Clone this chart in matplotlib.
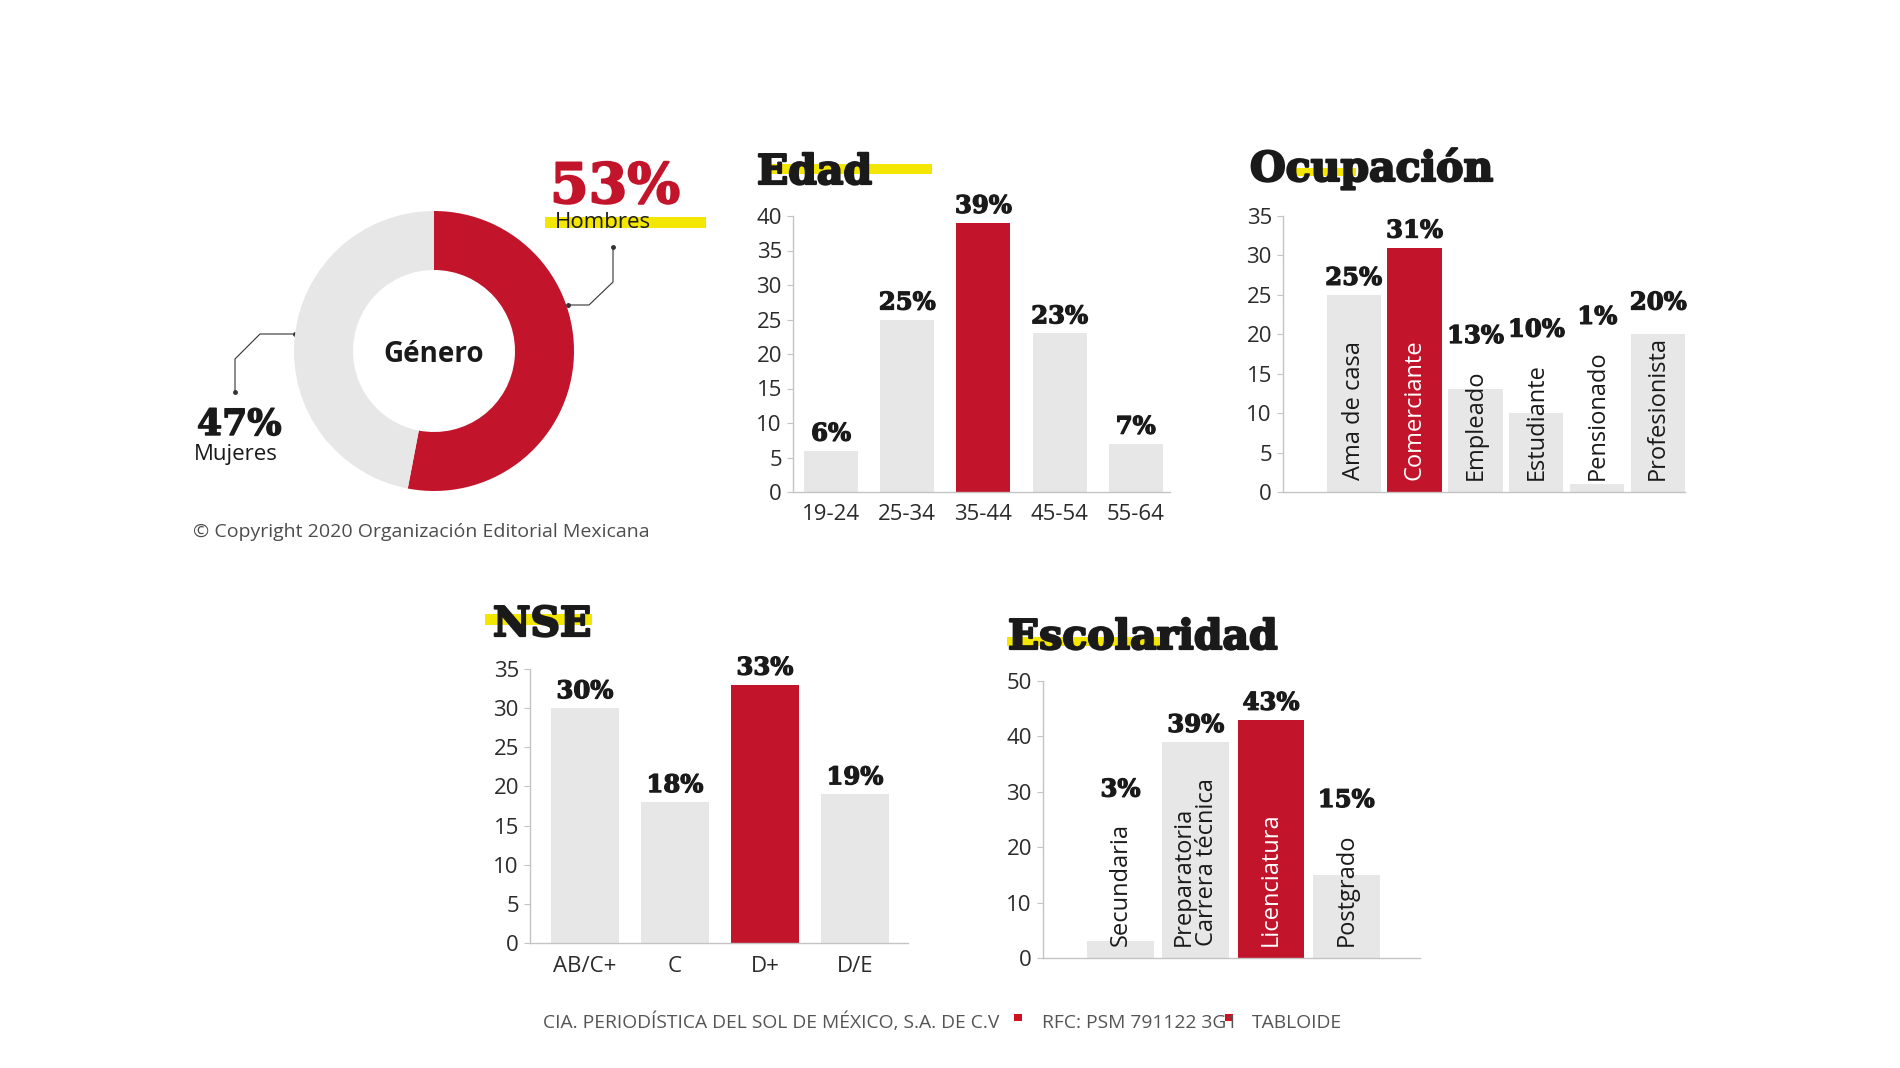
import matplotlib
matplotlib.use('Agg')
import matplotlib.pyplot as plt
import matplotlib.patheffects as pe
from matplotlib.patches import Rectangle
import numpy as np

RED = '#c2152b'
GRAY = '#e7e7e7'
YELLOW = '#f3e600'
INK = '#1a1a1a'
AXIS = '#c4c4c4'
SERIF = 'DejaVu Serif'
SANS = 'Open Sans'

# --- data ---
gen_labels = ['Hombres', 'Mujeres']
gen_vals = [53, 47]

edad_cats = ['19-24', '25-34', '35-44', '45-54', '55-64']
edad_vals = [6, 25, 39, 23, 7]

ocup_cats = ['Ama de casa', 'Comerciante', 'Empleado', 'Estudiante', 'Pensionado', 'Profesionista']
ocup_vals = [25, 31, 13, 10, 1, 20]

nse_cats = ['AB/C+', 'C', 'D+', 'D/E']
nse_vals = [30, 18, 33, 19]

esc_cats = ['Secundaria', 'Preparatoria\nCarrera técnica', 'Licenciatura', 'Postgrado']
esc_vals = [3, 39, 43, 15]

footer = ['CIA. PERIODÍSTICA DEL SOL DE MÉXICO, S.A. DE C.V', 'RFC: PSM 791122 3G1', 'TABLOIDE']

W, H = 1900, 1068
fig = plt.figure(figsize=(W / 100, H / 100), dpi=100)
fig.patch.set_facecolor('white')


def rect(l, t, r, b):
    # pixel box (from top-left) -> figure fraction
    return [l / W, 1 - b / H, (r - l) / W, (b - t) / H]


def heavy(lw, color=INK):
    return [pe.withStroke(linewidth=lw, foreground=color)]


# overlay in pixel coords for titles, callouts, footer
ov = fig.add_axes([0, 0, 1, 1], zorder=0)
ov.set_xlim(0, W)
ov.set_ylim(H, 0)
ov.axis('off')


def title(x, y, txt, bar):
    bx, by, bw, bh = bar
    ov.add_patch(Rectangle((bx, by), bw, bh, color=YELLOW, lw=0, zorder=1))
    ov.text(x, y, txt, family=SERIF, weight='bold', fontsize=29.5, color=INK,
            ha='left', va='baseline', zorder=2, path_effects=heavy(1.6))


def bar_chart(box, cats, vals, ymax, step, width, xlim, inside=False):
    ax = fig.add_axes(rect(*box), zorder=2)
    ax.patch.set_visible(False)
    x = np.arange(len(vals))
    top = max(vals)
    colors = [RED if v == top else GRAY for v in vals]
    ax.bar(x, vals, width=width, color=colors, zorder=2)
    ax.set_xlim(*xlim)
    ax.set_ylim(0, ymax)
    ax.set_yticks(np.arange(0, ymax + 1, step))
    for s in ['top', 'right']:
        ax.spines[s].set_visible(False)
    for s in ['left', 'bottom']:
        ax.spines[s].set_color(AXIS)
        ax.spines[s].set_linewidth(1)
    ax.tick_params(axis='y', length=4, color=AXIS, labelsize=16, labelcolor='#2b2b2b', pad=4)
    for lab in ax.get_yticklabels():
        lab.set_fontfamily(SANS)
    labels = []
    if inside:
        ax.set_xticks([])
        for i, (c, col) in enumerate(zip(cats, colors)):
            t = ax.annotate(c, xy=(i, 0), xytext=(0, 9), textcoords='offset points',
                            rotation=90, ha='center', va='bottom', fontsize=17,
                            family=SANS, multialignment='left', linespacing=0.95,
                            color='white' if col == RED else INK, zorder=3)
            labels.append(t)
    else:
        ax.set_xticks(x, cats)
        ax.tick_params(axis='x', length=0, labelsize=16, labelcolor='#2b2b2b', pad=9)
        for lab in ax.get_xticklabels():
            lab.set_fontfamily(SANS)
    fig.canvas.draw()
    r = fig.canvas.get_renderer()
    for i, v in enumerate(vals):
        y = ax.transData.transform((i, v))[1] + 10
        if inside:
            y = max(y, labels[i].get_window_extent(r).y1 + 26)
        yd = ax.transData.inverted().transform((0, y))[1]
        ax.text(i, yd, f'{v}%', ha='center', va='baseline', family=SERIF,
                weight='bold', fontsize=17.5, color=INK, path_effects=heavy(0.9))
    return ax


# --- Género donut ---
dax = fig.add_axes(rect(284, 201, 584, 501), zorder=1)
dax.pie(gen_vals, colors=[RED, GRAY], startangle=90, counterclock=False,
        radius=140 / 150, wedgeprops=dict(width=59 / 150, edgecolor='none'))
dax.set_xlim(-1, 1)
dax.set_ylim(-1, 1)
dax.set_aspect('equal')
dax.text(0, -0.02, 'Género', ha='center', va='center', family=SANS, weight='bold',
         fontsize=20, color=INK)

ov.text(550, 203, f'{gen_vals[0]}%', family=SERIF, weight='bold', fontsize=40,
        color=RED, va='baseline', path_effects=heavy(1.4, RED))
ov.add_patch(Rectangle((545, 217), 161, 11, color=YELLOW, lw=0, zorder=1))
ov.text(555, 228, gen_labels[0], family=SANS, fontsize=16, color=INK,
        va='baseline', zorder=2)
ov.text(197, 435, f'{gen_vals[1]}%', family=SERIF, weight='bold', fontsize=26,
        color=INK, va='baseline', path_effects=heavy(1.0))
ov.text(194, 460, gen_labels[1], family=SANS, fontsize=16, color=INK, va='baseline')

# callout leaders
ov.plot([613, 613, 589, 568], [247, 282, 305, 305], color='#333333', lw=0.8)
ov.plot([295, 260, 235, 235], [334, 334, 359, 392], color='#333333', lw=0.8)
ov.plot([613, 568, 295, 235], [247, 305, 334, 392], 'o', color='#333333', ms=2.5)

ov.text(421, 537, '© Copyright 2020 Organización Editorial Mexicana', family=SANS,
        fontsize=14, color='#4d4d4d', ha='center', va='baseline')

# --- bar charts ---
title(757, 184, 'Edad', (770, 164, 162, 10))
bar_chart((793, 216, 1170, 492), edad_cats, edad_vals, 40, 5, 0.71, (-0.5, 4.45))

title(1250, 181, 'Ocupación', (1292, 168, 64, 8))
bar_chart((1283, 216, 1685, 492), ocup_cats, ocup_vals, 35, 5, 0.89, (-1.16, 5.44), inside=True)

title(493, 636, 'NSE', (485, 614, 107, 11))
bar_chart((530, 669, 908, 943), nse_cats, nse_vals, 35, 5, 0.75, (-0.61, 3.59))

title(1008, 649, 'Escolaridad', (1007, 637, 156, 9))
bar_chart((1043, 681, 1420, 958), esc_cats, esc_vals, 50, 10, 0.89, (-1.03, 3.98), inside=True)

# --- footer: size the type so the first block fills its span ---
foot_kw = dict(family=SANS, color='#555555', va='baseline')
t1 = ov.text(543, 1028, footer[0], fontsize=14, **foot_kw)
fig.canvas.draw()
fs = 14 * 459 / t1.get_window_extent(fig.canvas.get_renderer()).width
t1.set_fontsize(fs)
ov.text(1042, 1028, footer[1], fontsize=fs, **foot_kw)
ov.text(1252, 1028, footer[2], fontsize=fs, **foot_kw)
ov.add_patch(Rectangle((1014, 1014), 8, 7, color='#d0101e', lw=0))
ov.add_patch(Rectangle((1225, 1014), 8, 7, color='#d0101e', lw=0))

fig.savefig('out.png', dpi=100, facecolor='white')
